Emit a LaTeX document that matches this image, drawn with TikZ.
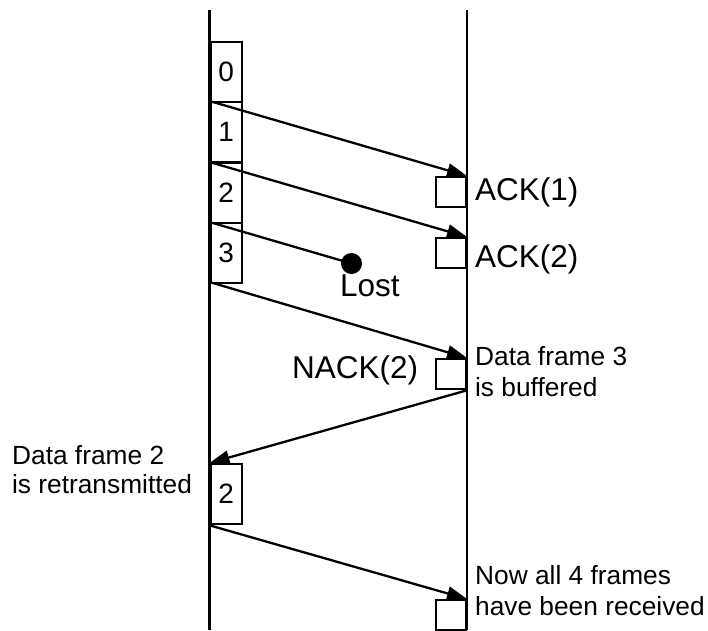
\documentclass[tikz,border=0pt]{standalone}
\usepackage{fontspec}
\setmainfont{Liberation Sans}
\usetikzlibrary{arrows.meta}
\begin{document}
\begin{tikzpicture}[x=1pt,y=-1pt,line width=2.3pt,
  framebox/.style={draw, minimum width=31pt, minimum height=60pt, inner sep=0pt,
    anchor=north west, font=\fontsize{28}{32}\selectfont},
  rxbox/.style={draw, minimum width=30pt, minimum height=30pt, inner sep=0pt, anchor=north east},
  msg/.style={-{Triangle[length=20pt,width=14pt]}},
  biglabel/.style={font=\fontsize{31.5}{36}\selectfont, inner sep=0pt, anchor=base west},
  smalllabel/.style={font=\fontsize{26.3}{30}\selectfont, inner sep=0pt, anchor=base west}
]
\useasboundingbox (0,0) rectangle (708,630);

% time lines of sender and receiver
\coordinate (sTop) at (209.5,10);
\coordinate (sBot) at (209.5,630);
\coordinate (rTop) at (467,10);
\coordinate (rBot) at (467,630);
\draw (sTop) -- (sBot);
\draw (rTop) -- (rBot);

% frames sent
\node[framebox] (f0) at (209.5,41) {0};
\node[framebox] (f1) at (209.5,101) {1};
\node[framebox] (f2) at (209.5,162) {2};
\node[framebox] (f3) at (209.5,222) {3};
\coordinate (f4) at (209.5,282);
\node[framebox] (f2r) at (209.5,463) {2};

% receiver slots
\node[rxbox] (a1) at (467,176) {};
\node[rxbox] (a2) at (467,237) {};
\node[rxbox] (n2) at (467,358) {};
\node[rxbox] (fin) at (467,599) {};

% lost frame
\node[circle, fill, minimum size=21pt, inner sep=0pt] (lost) at (351.5,263.5) {};

% messages
\draw[msg] (f1.north west) -- (a1.north east);
\draw[msg] (f2.north west) -- (a2.north east);
\draw (f3.north west) -- (lost.center);
\draw[msg] (f4) -- (n2.north east);
\draw[msg] (n2.south east) -- (f2r.north west);
\draw[msg] (f2r.south west) -- (fin.north east);

% labels
\node[biglabel] (l1) at (474,200.5) {ACK(1)};
\node[biglabel] (l2) at (474,267) {ACK(2)};
\node[biglabel] (l3) at (339,296.7) {Lost};
\node[biglabel] (l4) at (291,378) {NACK(2)};
\node[smalllabel] (d3a) at (474,365) {Data frame 3};
\node[smalllabel] (d3b) at (474,396) {is buffered};
\node[smalllabel] (d2a) at (11,464) {Data frame 2};
\node[smalllabel] (d2b) at (11,493) {is retransmitted};
\node[smalllabel] (na) at (474,584) {Now all 4 frames};
\node[smalllabel] (nb) at (474,615) {have been received};
\end{tikzpicture}
\end{document}
